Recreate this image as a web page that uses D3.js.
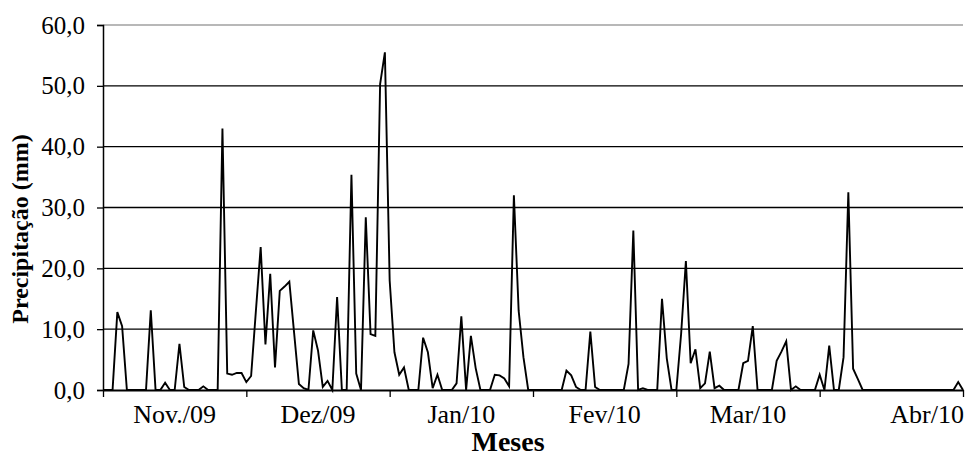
<!DOCTYPE html>
<html>
<head>
<meta charset="utf-8">
<script src="https://cdn.jsdelivr.net/npm/d3@7"></script>
<style>
  body { margin: 0; background: #fff; }
</style>
</head>
<body>
<svg id="chart"></svg>
<script>
// daily precipitation (mm), one value per day
var precip = [
  0, 0, 0, 12.8, 10.5, 0, 0, 0, 0, 0,
  13.1, 0, 0, 1.2, 0, 0, 7.6, 0.5, 0, 0,
  0, 0.6, 0, 0, 0, 43.0, 2.7, 2.5, 2.8, 2.8,
  1.3, 2.3, 13.0, 23.5, 7.5, 19.1, 3.7, 16.3, 17.0, 17.8,
  9.4, 1.0, 0.3, 0, 9.8, 6.5, 0.5, 1.5, 0, 15.3,
  0, 0, 35.4, 2.7, 0, 28.4, 9.2, 8.9, 50.3, 55.5,
  18.0, 6.2, 2.5, 3.7, 0, 0, 0, 8.6, 6.2, 0.3,
  2.5, 0, 0, 0, 1.1, 12.1, 0, 8.9, 3.6, 0,
  0, 0, 2.5, 2.4, 1.9, 0.6, 32.0, 13.0, 5.4, 0,
  0, 0, 0, 0, 0, 0, 0, 3.2, 2.4, 0.5,
  0, 0, 9.6, 0.5, 0, 0, 0, 0, 0, 0,
  4.3, 26.2, 0, 0.3, 0, 0, 0, 15.0, 5.2, 0,
  0, 9.2, 21.2, 4.4, 6.7, 0.3, 1.1, 6.3, 0.3, 0.7,
  0, 0, 0, 0, 4.4, 4.8, 10.5, 0, 0, 0,
  0, 4.8, 6.3, 8.0, 0, 0.6, 0, 0, 0, 0,
  2.5, 0, 7.3, 0, 0, 5.4, 32.5, 3.5, 1.8, 0,
  0, 0, 0, 0, 0, 0, 0, 0, 0, 0,
  0, 0, 0, 0, 0, 0, 0, 0, 0, 1.3, 0
];

var yTicks = [0, 10, 20, 30, 40, 50, 60];
var monthTicks = [0, 30, 60, 90, 120, 150, 180];
var monthLabels = ["Nov./09", "Dez/09", "Jan/10", "Fev/10", "Mar/10", "Abr/10"];
var monthLabelAt = [15, 45, 75, 105, 135, 172.5];

var serif = "'Liberation Serif', 'Times New Roman', 'DejaVu Serif', serif";

var margin = {top: 25, right: 3, bottom: 71, left: 103},
    width = 966 - margin.left - margin.right,
    height = 461 - margin.top - margin.bottom;

var svg = d3.select("#chart")
    .attr("width", 966)
    .attr("height", 461)
    .append("g")
    .attr("transform", "translate(" + margin.left + "," + margin.top + ")");

var xScale = d3.scaleLinear()
    .domain([0, precip.length - 1])
    .range([0, width]);

var yScale = d3.scaleLinear()
    .domain([0, 60])
    .range([height, 0]);

var ptFormat = d3.formatLocale({decimal: ",", thousands: ".", grouping: [3], currency: ["", ""]}).format(".1f");

// gridlines
svg.append("g")
    .selectAll("line")
    .data(yTicks.slice(1))
    .enter()
    .append("line")
    .attr("x1", 0)
    .attr("x2", width)
    .attr("y1", function(d) { return yScale(d); })
    .attr("y2", function(d) { return yScale(d); })
    .attr("stroke", function(d) { return d === 60 ? "#a0a0a0" : "#000"; })
    .attr("stroke-width", 1.3);

// y axis
var yAxis = svg.append("g")
    .attr("class", "y-axis")
    .call(d3.axisLeft(yScale)
        .tickValues(yTicks)
        .tickSize(6)
        .tickPadding(12)
        .tickFormat(ptFormat));

yAxis.attr("font-family", serif).attr("font-size", 25);
yAxis.selectAll("text")
    .style("font-family", serif)
    .style("font-size", "25px")
    .attr("fill", "#000");
yAxis.select(".domain").attr("stroke", "#000").attr("stroke-width", 1.5);
yAxis.selectAll(".tick line").attr("stroke", "#000").attr("stroke-width", 1.3);

// x axis
var xAxis = svg.append("g")
    .attr("class", "x-axis")
    .attr("transform", "translate(0," + height + ")")
    .call(d3.axisBottom(xScale)
        .tickValues(monthTicks)
        .tickSize(7)
        .tickSizeOuter(0)
        .tickFormat(""));

xAxis.attr("font-family", serif);
xAxis.select(".domain").attr("stroke", "#000").attr("stroke-width", 2);
xAxis.selectAll(".tick line").attr("stroke", "#000").attr("stroke-width", 1.3);

xAxis.selectAll(".month-label")
    .data(monthLabels)
    .enter()
    .append("text")
    .attr("class", "month-label")
    .attr("x", function(d, i) { return xScale(monthLabelAt[i]); })
    .attr("y", 33)
    .attr("text-anchor", "middle")
    .attr("fill", "#000")
    .style("font-family", serif)
    .style("font-size", "26px")
    .text(function(d) { return d; });

// data line
var line = d3.line()
    .x(function(d, i) { return xScale(i); })
    .y(function(d) { return yScale(d); });

svg.append("path")
    .datum(precip)
    .attr("d", line)
    .attr("fill", "none")
    .attr("stroke", "#000")
    .attr("stroke-width", 1.9)
    .attr("stroke-linejoin", "miter");

// axis titles
svg.append("text")
    .attr("transform", "translate(" + (508 - margin.left) + "," + (height + 61) + ")")
    .attr("text-anchor", "middle")
    .style("font-family", serif)
    .style("font-size", "28px")
    .style("font-weight", "bold")
    .text("Meses");

svg.append("text")
    .attr("transform", "translate(" + (-75) + "," + (229 - margin.top) + ") rotate(-90)")
    .attr("text-anchor", "middle")
    .style("font-family", serif)
    .style("font-size", "24px")
    .style("font-weight", "bold")
    .text("Precipitação (mm)");
</script>
</body>
</html>
